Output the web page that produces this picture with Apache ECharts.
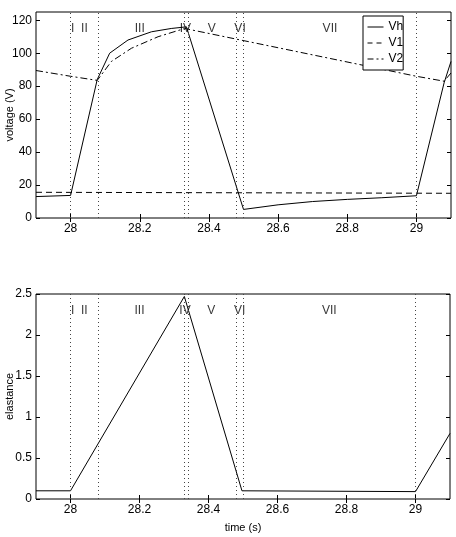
<!DOCTYPE html>
<html>
<head>
<meta charset="utf-8">
<script src="https://cdn.jsdelivr.net/npm/echarts@6/dist/echarts.min.js"></script>
<style>
  html, body { margin: 0; padding: 0; background: #fff; }
  #main { width: 456px; height: 537px; }
</style>
</head>
<body>
<div id="main"></div>
<script>
// data
var vh = [[27.9, 13], [28.0, 13.7], [28.077, 84], [28.113, 100], [28.166, 108], [28.234, 113],
          [28.291, 115], [28.335, 116], [28.5, 5.2], [28.6, 8], [28.7, 10], [28.8, 11.3],
          [28.9, 12.3], [29.0, 13.5], [29.08, 82], [29.1, 95]];
var v1 = [[27.9, 15.6], [29.1, 15]];
var v2 = [[27.9, 89.5], [28.0, 86], [28.077, 83.5], [28.118, 95], [28.176, 103], [28.253, 110],
          [28.33, 115], [29.0, 86], [29.08, 83], [29.1, 88]];
var elast = [[27.9, 0.1], [28.0, 0.1], [28.33, 2.47], [28.497, 0.1], [29.0, 0.09], [29.1, 0.8]];

var phaseBounds = [28.0, 28.005, 28.079, 28.328, 28.335, 28.482, 28.495, 29.0];
var phaseNames = ['I', 'II', 'III', 'IV', 'V', 'VI', 'VII'];
var phaseLabelX = [28.006, 28.04, 28.2, 28.332, 28.408, 28.49, 28.75];

var xTicks = [28, 28.2, 28.4, 28.6, 28.8, 29];
var vTicks = [0, 20, 40, 60, 80, 100, 120];
var eTicks = [0, 0.5, 1, 1.5, 2, 2.5];

var font = 'Liberation Sans Narrow, Arial Narrow, Liberation Sans, sans-serif';

function xAx(gi, pos, labels, name) {
    return {
        type: 'value', gridIndex: gi, position: pos, min: 27.9, max: 29.1,
        axisLine: { show: false },
        splitLine: { show: false },
        axisTick: { inside: true, length: 4, customValues: xTicks, lineStyle: { color: '#000' } },
        axisLabel: { show: labels, customValues: xTicks, margin: 5, color: '#000',
                     fontFamily: font, fontSize: 12 },
        name: name || '', nameLocation: 'middle', nameGap: 23, nameMoveOverlap: false,
        nameTextStyle: { color: '#000', fontFamily: font, fontSize: 11 }
    };
}
function yAx(gi, pos, labels, max, ticks, name) {
    return {
        type: 'value', gridIndex: gi, position: pos, min: 0, max: max,
        axisLine: { show: false },
        splitLine: { show: false },
        axisTick: { inside: true, length: 4, customValues: ticks, lineStyle: { color: '#000' } },
        axisLabel: { show: labels, customValues: ticks, margin: 4, color: '#000',
                     fontFamily: font, fontSize: 12 },
        name: name || '', nameLocation: 'middle', nameGap: 21, nameRotate: 90, nameMoveOverlap: false,
        nameTextStyle: { color: '#000', fontFamily: 'Liberation Sans, Arial, sans-serif', fontSize: 11 }
    };
}

function bounds() {
    return {
        silent: true, symbol: 'none', label: { show: false },
        lineStyle: { color: '#444', width: 1, type: [1, 3] },
        data: phaseBounds.map(function (t) { return { xAxis: t }; })
    };
}
function phaseLabels(xi, yi, yv) {
    return {
        type: 'scatter', xAxisIndex: xi, yAxisIndex: yi, symbolSize: 1,
        itemStyle: { color: 'rgba(0,0,0,0)' }, silent: true,
        data: phaseLabelX.map(function (x, i) { return [x, yv, phaseNames[i]]; }),
        label: { show: true, position: 'inside', formatter: function (p) { return p.data[2]; },
                 color: '#000', fontFamily: font, fontSize: 12 }
    };
}
function legendItem(name, type) {
    return { name: name, itemStyle: { opacity: 0 }, lineStyle: { color: '#000', width: 1, type: type } };
}

var chart = echarts.init(document.getElementById('main'));
var option = {
    animation: false,
    backgroundColor: '#fff',
    grid: [
        { left: 36, top: 12, width: 415, height: 206, show: true, borderColor: '#000', borderWidth: 1,
          containLabel: false, outerBoundsMode: 'none' },
        { left: 36, top: 294, width: 414, height: 205, show: true, borderColor: '#000', borderWidth: 1,
          containLabel: false, outerBoundsMode: 'none' }
    ],
    xAxis: [
        xAx(0, 'bottom', true), xAx(0, 'top', false),
        xAx(1, 'bottom', true, 'time (s)'), xAx(1, 'top', false)
    ],
    yAxis: [
        yAx(0, 'left', true, 125, vTicks, 'voltage (V)'), yAx(0, 'right', false, 125, vTicks),
        yAx(1, 'left', true, 2.5, eTicks, 'elastance'), yAx(1, 'right', false, 2.5, eTicks)
    ],
    legend: {
        orient: 'vertical', left: 363, top: 16,
        data: [legendItem('Vh', 'solid'), legendItem('V1', [5, 4]), legendItem('V2', [6, 3, 2, 3])],
        borderColor: '#000', borderWidth: 1, padding: [5, 0, 5, 4],
        itemWidth: 16, itemHeight: 12, itemGap: 4,
        textStyle: { color: '#000', fontFamily: font, fontSize: 12 },
        backgroundColor: '#fff'
    },
    series: [
        { name: 'Vh', type: 'line', xAxisIndex: 0, yAxisIndex: 0, data: vh, symbol: 'none',
          lineStyle: { color: '#000', width: 1 }, itemStyle: { color: '#000' }, markLine: bounds() },
        { name: 'V1', type: 'line', xAxisIndex: 0, yAxisIndex: 0, data: v1, symbol: 'none',
          lineStyle: { color: '#000', width: 1, type: [6, 4] }, itemStyle: { color: '#000' } },
        { name: 'V2', type: 'line', xAxisIndex: 0, yAxisIndex: 0, data: v2, symbol: 'none',
          lineStyle: { color: '#000', width: 1, type: [7, 3, 2, 3] }, itemStyle: { color: '#000' } },
        phaseLabels(0, 0, 115),
        { name: 'elastance', type: 'line', xAxisIndex: 2, yAxisIndex: 2, data: elast, symbol: 'none',
          lineStyle: { color: '#000', width: 1 }, markLine: bounds() },
        phaseLabels(2, 2, 2.3)
    ]
};
chart.setOption(option);
</script>
</body>
</html>
